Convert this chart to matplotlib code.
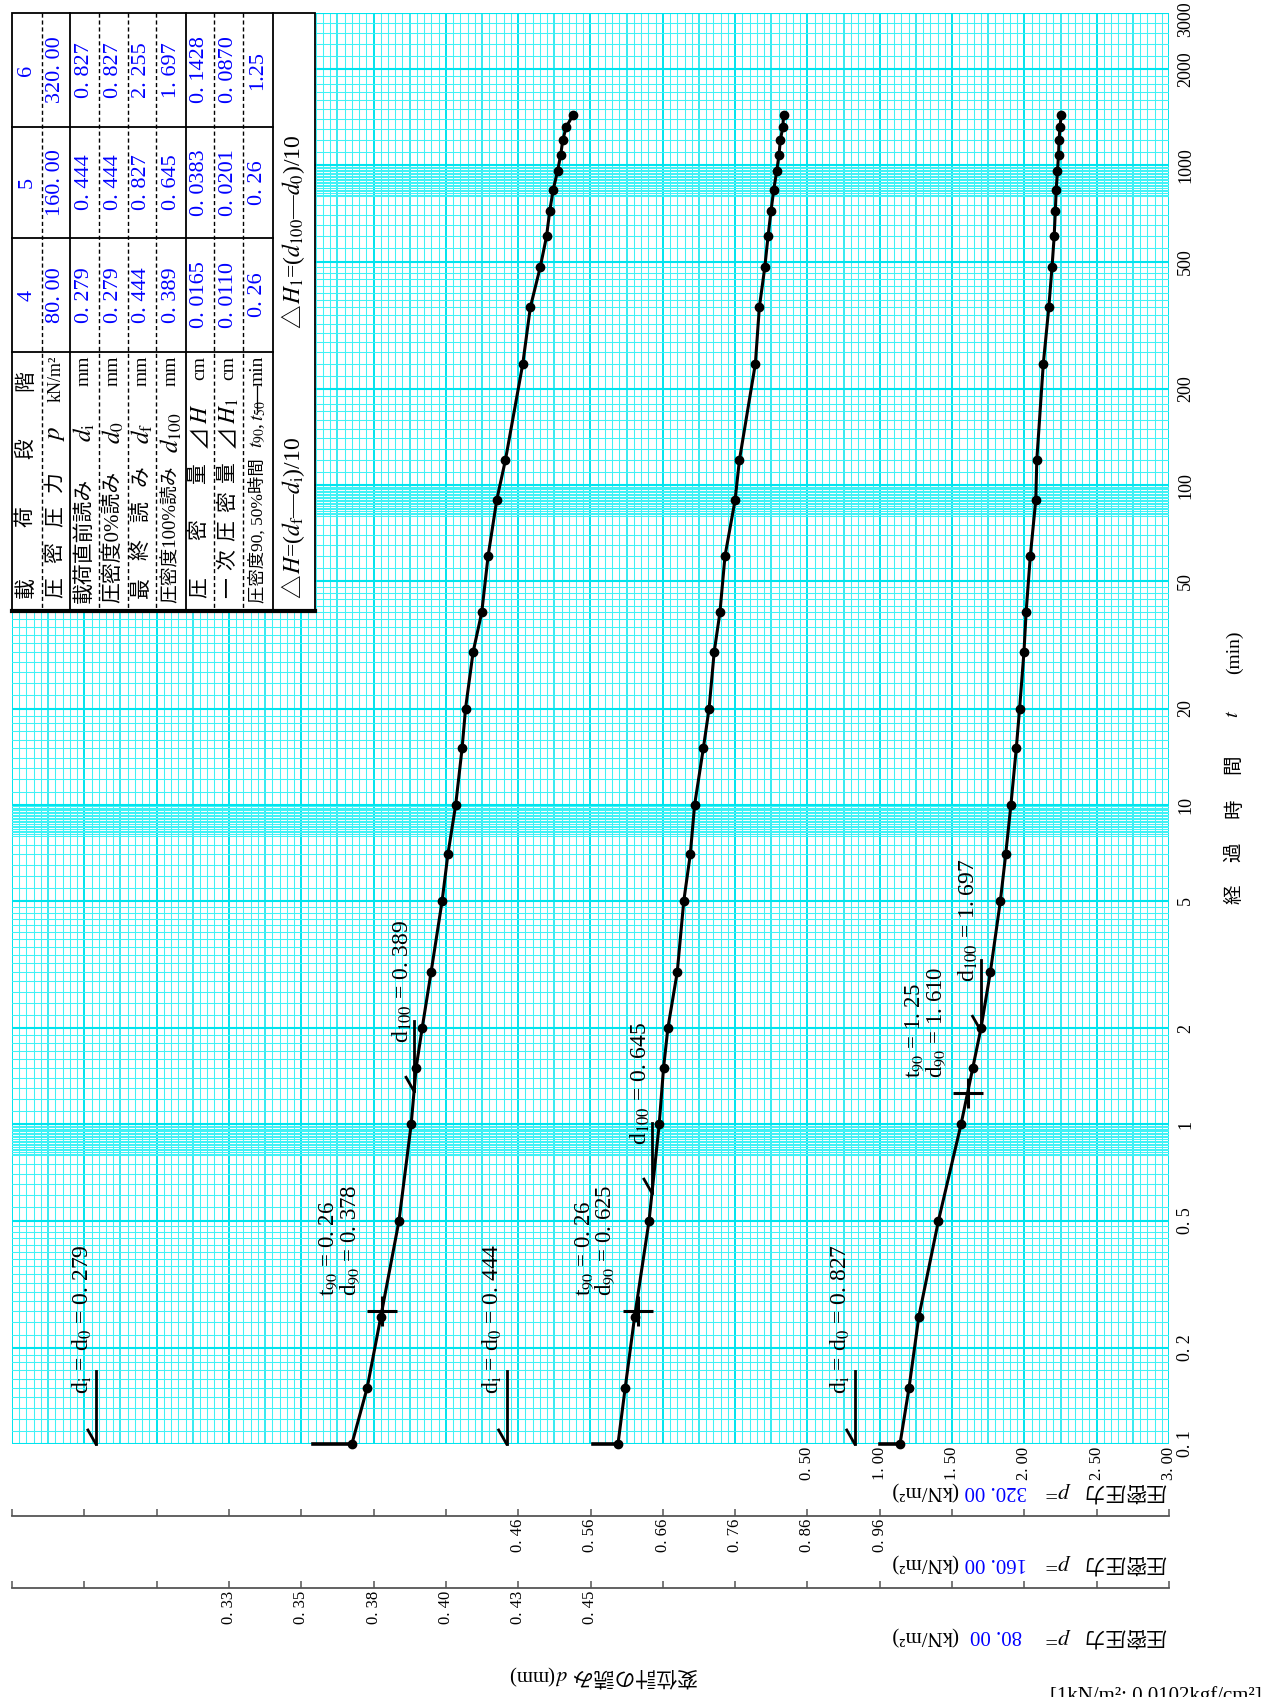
import numpy as np, matplotlib
matplotlib.use("Agg")
import matplotlib.pyplot as plt
from matplotlib.patches import Rectangle
from matplotlib.ticker import FixedLocator, FixedFormatter, NullLocator

plt.rcParams["font.family"] = ["Liberation Serif", "Noto Sans CJK JP", "DejaVu Sans"]
plt.rcParams["mathtext.fontset"] = "stix"

# ---- data (readings per load stage) ----
times = [0.1, 0.15, 0.25, 0.5, 1, 1.5, 2, 3, 5, 7, 10, 15, 20, 30, 40, 60, 90, 120,
         240, 360, 480, 600, 720, 840, 960, 1080, 1200, 1320, 1440]
d4 = [0.3675, 0.3728, 0.3775, 0.3838, 0.3880, 0.3897, 0.3918, 0.3949, 0.3987, 0.4007,
      0.4034, 0.4056, 0.4068, 0.4094, 0.4124, 0.4146, 0.4176, 0.4206, 0.4266, 0.4292,
      0.4326, 0.4348, 0.4359, 0.4371, 0.4386, 0.4397, 0.4404, 0.4416, 0.4440]
d5 = [0.598, 0.608, 0.621, 0.641, 0.655, 0.661, 0.667, 0.680, 0.689, 0.698,
      0.704, 0.716, 0.724, 0.731, 0.739, 0.746, 0.760, 0.766, 0.788, 0.7935,
      0.801, 0.8055, 0.8096, 0.8134, 0.8175, 0.8207, 0.8225, 0.826, 0.827]
d6 = [1.140, 1.2025, 1.270, 1.406, 1.562, 1.643, 1.700, 1.765, 1.834, 1.871,
      1.907, 1.944, 1.967, 1.997, 2.012, 2.041, 2.079, 2.086, 2.131, 2.169,
      2.191, 2.206, 2.214, 2.220, 2.229, 2.236, 2.240, 2.246, 2.255]
readings = [d4, d5, d6]
stage_no = ["4", "5", "6"]
p_txt = ["80.00", "160.00", "320.00"]
d_i = [0.279, 0.444, 0.827]
d_0 = [0.279, 0.444, 0.827]
d_f = [0.444, 0.827, 2.255]
d_100 = [0.389, 0.645, 1.697]
dH = ["0.0165", "0.0383", "0.1428"]
dH1 = ["0.0110", "0.0201", "0.0870"]
t90 = [0.26, 0.26, 1.25]
d90 = [0.378, 0.625, 1.610]
t90_tab = ["0. 26", "0. 26", "1.25"]
d_start = [0.354, 0.563, 1.000]
# displacement scale of each stage (value range across the sheet) and its ticks
xlims = [(0.25, 0.65), (-0.24, 1.36), (-5.0, 3.0)]
tick_step = [0.025, 0.1, 0.5]
lab4 = ["0. 33", "0. 35", "0. 38", "0. 40", "0. 43", "0. 45"]
lab5 = ["0. 46", "0. 56", "0. 66", "0. 76", "0. 86", "0. 96"]
lab6 = ["0. 50", "1. 00", "1. 50", "2. 00", "2. 50", "3. 00"]
t_ticks = [0.1, 0.2, 0.5, 1, 2, 5, 10, 20, 50, 100, 200, 500, 1000, 2000, 3000]
t_labels = ["0. 1", "0. 2", "0. 5", "1", "2", "5", "10", "20", "50", "100", "200",
            "500", "1000", "2000", "3000"]

def sp(v, nd=3):  # 0.279 -> "0. 279" like the sheet
    return ("%.*f" % (nd, v)).replace(".", ". ") if not isinstance(v, str) else v.replace(".", ". ")

W, H = 1263, 1697
fig = plt.figure(figsize=(W / 100, H / 100), dpi=100)
L, R, T, B = 12, 1169, 13, 1444
rect = [L / W, 1 - B / H, (R - L) / W, (B - T) / H]
axs = []
for i in range(3):
    a = fig.add_axes(rect, label="stage%d" % i)
    a.set_yscale("log"); a.set_ylim(0.1, 3000); a.set_xlim(*xlims[i])
    a.patch.set_visible(i == 2)
    axs.append(a)
ax4, ax5, ax6 = axs
ax6.set_zorder(0); ax5.set_zorder(1); ax4.set_zorder(2)

# ---- grid (semi-log paper) on stage-6 axis ----
gc_major, gc_minor = "#00e4ee", "#40f2f6"
for k, v in enumerate(np.arange(-5.0, 3.0001, 0.05)):
    lw = 1.4 if k % 10 == 0 else (1.1 if k % 5 == 0 else 0.75)
    ax6.axvline(v, color=gc_major if k % 5 == 0 else gc_minor, lw=lw, zorder=0)
mant = (list(np.arange(1.0, 2.0, 0.1)) + list(np.arange(2.0, 5.0, 0.2)) +
        list(np.arange(5.0, 8.0, 0.5)) + list(np.arange(8.0, 10.0, 0.1)))
for dec in [0.1, 1, 10, 100, 1000]:
    for m in mant:
        t = dec * m
        if t <= 3000.01:
            major = abs(m - round(m)) < 1e-6 and round(m) in (1, 2, 5)
            ax6.axhline(t, color=gc_major if major else gc_minor,
                        lw=1.5 if major else 0.75, zorder=0)
ax6.axhline(3000, color=gc_major, lw=1.5, zorder=0)

for a in axs:
    for s in a.spines.values():
        s.set_visible(False)
    a.yaxis.set_minor_locator(NullLocator())

# time axis (right side); the top label is placed by hand so it stays on the page
ax6.yaxis.tick_right()
ax6.yaxis.set_major_locator(FixedLocator(t_ticks))
ax6.yaxis.set_major_formatter(FixedFormatter(t_labels[:-1] + [""]))
ax6.tick_params(axis="y", length=0, pad=6, labelsize=13)
for tl in ax6.get_yticklabels():
    tl.set_rotation(90); tl.set_va("center"); tl.set_ha("left")
ax6.xaxis.set_major_locator(FixedLocator([0.5, 1.0, 1.5, 2.0, 2.5, 3.0]))
ax6.xaxis.set_major_formatter(FixedFormatter(lab6))
ax6.tick_params(axis="x", length=0, pad=2, labelsize=12, labelrotation=90)

for a, k, lab, off in [(ax5, 1, lab5, 51.8), (ax4, 0, lab4, 103.7)]:
    a.yaxis.set_visible(False)
    a.spines["bottom"].set_visible(True)
    a.spines["bottom"].set_position(("outward", off))
    a.spines["bottom"].set_color("#555555"); a.spines["bottom"].set_linewidth(1.3)
    lo, hi = xlims[k]
    tk = lo + tick_step[k] * np.arange(17)
    first = 3 if k == 0 else 7
    labels = [""] * 17
    for j, s in enumerate(lab):
        labels[first + j] = s
    a.xaxis.set_major_locator(FixedLocator(tk))
    a.xaxis.set_major_formatter(FixedFormatter(labels))
    a.xaxis.set_minor_locator(FixedLocator([lo, hi]))
    a.tick_params(axis="x", which="major", direction="in", length=5, width=1.1,
                  color="#555555", pad=2, labelsize=12, labelrotation=90)
    a.tick_params(axis="x", which="minor", direction="in", length=10, width=1.1,
                  color="#555555")

# ---- curves ----
for i, a in enumerate(axs):
    a.plot(readings[i], times, "-", color="k", lw=2.2, zorder=5, clip_on=False)
    a.plot(readings[i], times, "o", color="k", ms=6, zorder=6, clip_on=False)
    a.plot([d_start[i], readings[i][0]], [0.1, 0.1], "-", color="k", lw=2.6,
           zorder=5, clip_on=False)
    a.plot(d90[i], t90[i], marker="+", ms=22, mew=2.2, color="k", zorder=7)

# ---- overlay in pixel coordinates ----
ov = fig.add_axes([0, 0, 1, 1], label="overlay")
ov.set_xlim(0, W); ov.set_ylim(H, 0); ov.axis("off"); ov.set_zorder(10)
ov.patch.set_visible(False)
rend = fig.canvas.get_renderer()

def px(a, x, y):
    X, Y = a.transData.transform((x, y))
    return X, H - Y

def vt(x, y, s, size=16, color="k", va="bottom", ha="center", **kw):
    return ov.text(x, y, s, rotation=90, fontsize=size, color=color, ha=ha, va=va, **kw)

def vseq(x, y, parts, size=16):
    # pieces on one baseline (x), reading upward from y
    for s, c in parts:
        t = ov.text(x, y, s, rotation=90, rotation_mode="anchor", fontsize=size,
                    color=c, ha="left", va="baseline")
        y -= t.get_window_extent(renderer=rend).height

def hseq180(x, y, parts, size=15):
    # upside-down pieces on one baseline (y), reading leftward from x
    for s, c in parts:
        t = ov.text(x, y, s, rotation=180, rotation_mode="anchor", fontsize=size,
                    color=c, ha="left", va="baseline")
        x -= t.get_window_extent(renderer=rend).width

def arrow(x, y, ln):
    ov.plot([x, x], [y - ln, y], color="k", lw=2.0)
    ov.plot([x - 8, x], [y - 14, y], color="k", lw=2.0)

for i, a in enumerate(axs):
    d = readings[i]
    x, y = px(a, d_i[i], 0.1)
    arrow(x, y, 73)
    vt(x - 14, y - 50, r"d$_{\mathrm{i}}$ = d$_{\mathrm{0}}$ = " + sp(d_i[i]), size=17)
    tc = 10 ** np.interp(d_100[i], d, np.log10(times))
    x, y = px(a, d_100[i], tc)
    arrow(x, y, 70)
    vt(x - 12, y - 48, r"d$_{\mathrm{100}}$ = " + sp(d_100[i]), size=17)
    x, y = px(a, d90[i], t90[i])
    vt(x - 53, y - 15, r"t$_{\mathrm{90}}$ = " + sp(t90[i], 2), size=16.5)
    vt(x - 32, y - 15, r"d$_{\mathrm{90}}$ = " + sp(d90[i]), size=16.5)

# axis titles
vt(1186, 1, "3000", size=13, va="top")
for ch, y in zip("経過時間", [894, 852, 808, 764]):
    vt(1234, y, ch, size=14, va="center")
vt(1234, 714, "$t$", size=15, va="center")
vt(1234, 652, "(min)", size=14, va="center")

for yc, val in zip([1490, 1562, 1635], p_txt[::-1]):
    ov.text(1166, yc, "圧密圧力", rotation=180, fontsize=15, ha="right", va="center")
    ov.text(1071, yc, "$p$=", rotation=180, fontsize=16, ha="right", va="center")
    ov.text(996, yc, sp(val), rotation=180, fontsize=15, ha="center", va="center", color="blue")
    ov.text(958, yc, "(kN/m²)", rotation=180, fontsize=15, ha="right", va="center")
hseq180(698, 1670, [("変位計の読み ", "k"), ("$d$", "k"), ("(mm)", "k")], size=15)
ov.text(1050, 1686, "[1kN/m²: 0.0102kgf/cm²]", fontsize=15, ha="left", va="top")

# ---- table ----
rows = [12, 42, 70, 99, 128, 156, 186, 214, 243, 273]
cols = [13, 127, 238, 352, 611]
ov.add_patch(Rectangle((12, 13), 303, 598, facecolor="white", edgecolor="k", lw=1.3, zorder=1))
ov.plot([12, 315], [611, 611], color="k", lw=3, zorder=3)
for x in rows[1:]:
    solid = x in (70, 186, 273)
    ov.plot([x, x], [13, 611], color="k", lw=1.3 if solid else 1.0,
            ls="-" if solid else (0, (3, 2)), zorder=2)
for y in cols[1:4]:
    ov.plot([12, 273], [y, y], color="k", lw=1.3, zorder=2)

rc = [(rows[j] + rows[j + 1]) / 2 for j in range(9)]
for ch, y in zip("載荷段階", [588, 517, 449, 381]):
    vt(rc[0], y, ch, size=15, va="center")
for ch, y in zip("圧密圧力", [588, 553, 517, 482]):
    vt(rc[1], y, ch, size=15, va="center")
for ch, y in zip("最終読み", [588, 550, 512, 476]):
    vt(rc[4], y, ch, size=15, va="center")
for ch, y in zip("圧密量", [588, 530, 474]):
    vt(rc[6], y, ch, size=15, va="center")
for ch, y in zip("一次圧密量", [588, 560, 531, 502, 473]):
    vt(rc[7], y, ch, size=15, va="center")
vt(rc[2], 603, "載荷直前読み", size=15)
vt(rc[3], 603, "圧密度0%読み", size=15)
vt(rc[5], 603, "圧密度100%読み", size=13.5)
vt(rc[8], 603, "圧密度90, 50%時間", size=12.5)
syms = [None, "$p$", r"$d_{\mathrm{i}}$", "$d_0$", r"$d_{\mathrm{f}}$", "$d_{100}$", None, None, None]
units = [None, "kN/m²", "mm", "mm", "mm", "mm", "cm", "cm", "min"]
for j in range(9):
    if syms[j]:
        vt(rc[j], 433, syms[j], size=18, va="center")
    if units[j]:
        vt(rc[j], 356, units[j], size=14 if j > 1 else 13, va="top")
vseq(rc[6] + 7, 448, [("⊿", "k"), ("$H$", "k")], size=17)
vseq(rc[7] + 7, 448, [("⊿", "k"), ("$H_1$", "k")], size=17)
vseq(rc[8] + 5, 448, [("$t_{90}$, ", "k"), ("$t_{50}$", "k")], size=14)
ov.plot([rc[8] - 1, rc[8] - 1], [386, 410], color="k", lw=0.9)
vals = [stage_no, p_txt, [sp(v) for v in d_i], [sp(v) for v in d_0],
        [sp(v) for v in d_f], [sp(v) for v in d_100], [sp(v) for v in dH],
        [sp(v) for v in dH1], t90_tab]
cc = [(cols[2] + cols[3]) / 2, (cols[1] + cols[2]) / 2, (cols[0] + cols[1]) / 2]
for j in range(9):
    for s in range(3):
        v = vals[j][s] if j != 1 else sp(vals[j][s])
        vt(rc[j], cc[s], v, size=16, color="blue", va="center")
vseq(300, 598, [("△", "k"), (r"$H$=($d_{\mathrm{f}}$—$d_{\mathrm{i}}$)/10", "k")], size=17)
vseq(300, 328, [("△", "k"), (r"$H_1$=($d_{100}$—$d_0$)/10", "k")], size=17)

fig.savefig("out.png", dpi=100, facecolor="white")
